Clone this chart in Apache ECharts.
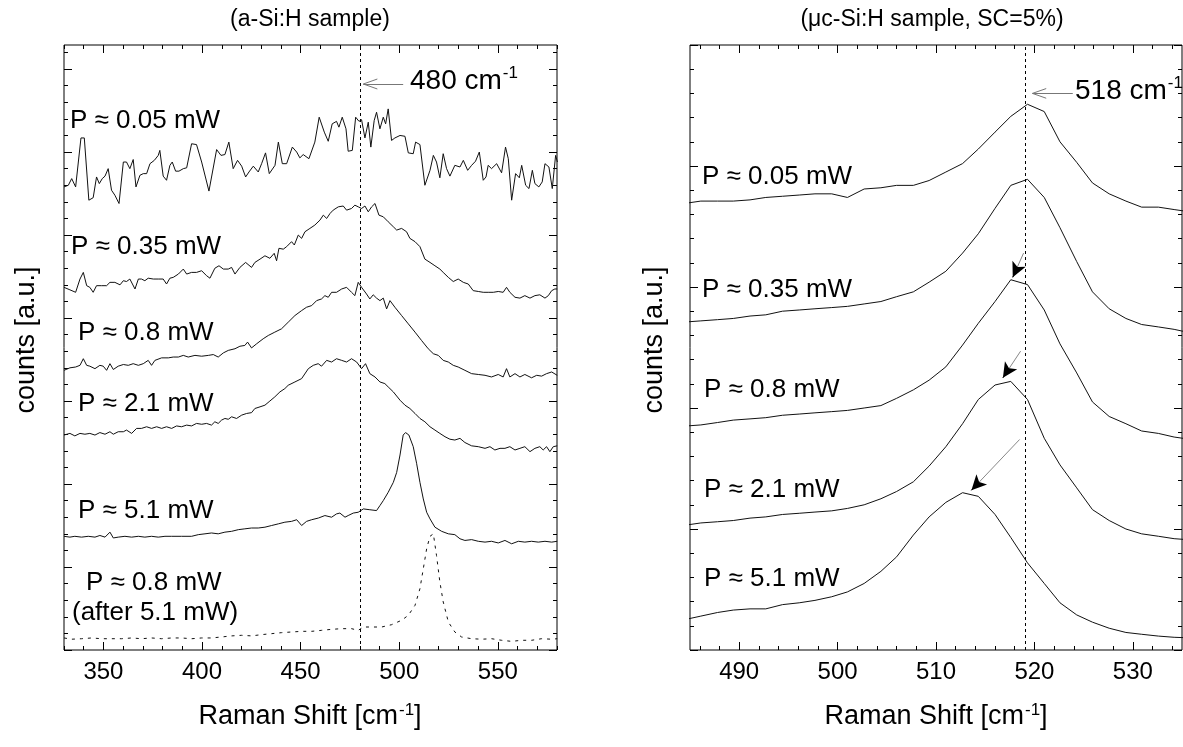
<!DOCTYPE html>
<html>
<head>
<meta charset="utf-8">
<script src="https://cdn.jsdelivr.net/npm/echarts@6/dist/echarts.min.js"></script>
<style>html,body{margin:0;padding:0;background:#fff}#chart{width:1183px;height:747px}</style>
</head>
<body>
<div id="chart"></div>
<script>
// ---- left panel: a-Si:H, spectra offset vertically ----
var aP005 = [[330.0,5.58],[332.2,5.60],[333.9,5.68],[335.9,5.58],[338.6,6.17],[340.3,6.17],[342.6,5.42],[344.8,5.45],[346.5,5.70],[347.9,5.62],[349.4,5.68],[350.8,5.71],[352.4,5.80],[354.1,5.54],[355.8,5.48],[357.9,5.38],[360.1,5.88],[361.7,5.88],[363.4,5.80],[365.1,5.91],[366.5,5.58],[368.5,5.72],[370.2,5.74],[371.9,5.74],[373.6,5.86],[375.8,5.90],[377.8,5.96],[378.6,6.02],[380.3,5.71],[382.0,5.66],[383.7,5.84],[384.9,5.88],[386.6,5.77],[388.3,5.77],[390.5,5.80],[392.2,5.81],[394.7,6.10],[397.2,6.09],[399.8,5.88],[403.5,5.53],[407.4,6.03],[409.6,5.96],[411.6,5.97],[413.6,6.12],[415.8,5.80],[418.0,5.90],[420.1,5.83],[422.1,5.70],[423.8,5.76],[426.0,5.83],[428.5,5.76],[430.2,5.86],[432.2,5.99],[434.1,5.74],[437.0,5.84],[438.7,6.12],[440.7,5.86],[442.9,5.86],[445.8,6.06],[448.0,6.00],[449.6,5.93],[451.3,5.97],[454.2,5.92],[457.2,6.12],[459.4,6.42],[462.0,6.24],[464.0,6.13],[466.0,6.34],[468.2,6.37],[469.4,6.30],[471.1,6.42],[473.0,6.28],[474.1,6.01],[476.2,6.02],[477.9,6.42],[479.6,6.37],[480.9,6.39],[482.6,6.17],[484.3,6.36],[485.6,6.06],[487.3,6.38],[488.5,6.48],[490.2,6.28],[491.9,6.42],[493.1,6.34],[494.4,6.52],[496.1,6.14],[497.8,6.17],[500.4,6.20],[502.9,6.19],[504.6,5.99],[507.1,5.98],[508.3,6.12],[510.5,6.09],[513.0,5.60],[515.6,5.78],[517.3,5.96],[518.9,5.88],[520.6,5.69],[522.3,5.98],[524.0,5.80],[525.7,5.71],[528.2,5.84],[530.8,5.82],[532.5,5.90],[534.7,5.78],[536.7,5.84],[538.7,5.89],[540.6,6.00],[542.6,5.66],[544.0,5.70],[545.1,5.84],[546.8,5.80],[549.4,5.86],[551.9,5.75],[553.9,6.06],[555.3,5.92],[557.0,5.42],[559.0,5.74],[560.9,5.69],[562.1,5.84],[564.1,5.60],[565.8,5.56],[567.5,5.78],[568.8,5.62],[570.8,5.58],[572.5,5.64],[573.9,5.86],[575.9,5.82],[577.6,5.56],[579.3,5.96],[580.2,5.88]];

var aP035 = [[330.0,4.37],[333.0,4.34],[335.9,4.31],[338.1,4.47],[339.8,4.55],[341.5,4.39],[343.1,4.37],[344.8,4.31],[346.5,4.39],[349.1,4.39],[351.6,4.39],[353.3,4.43],[355.8,4.43],[358.4,4.40],[360.1,4.45],[361.7,4.44],[363.4,4.47],[366.0,4.35],[367.7,4.47],[369.3,4.47],[371.0,4.45],[372.7,4.48],[375.3,4.47],[377.8,4.47],[380.3,4.47],[382.0,4.41],[383.7,4.48],[385.4,4.49],[388.0,4.53],[390.5,4.59],[392.2,4.53],[394.7,4.55],[397.2,4.55],[399.8,4.57],[402.3,4.51],[404.0,4.48],[406.5,4.60],[408.6,4.63],[410.8,4.59],[413.3,4.59],[415.0,4.61],[416.7,4.53],[419.2,4.61],[422.1,4.67],[425.1,4.61],[426.8,4.67],[429.4,4.71],[431.9,4.75],[434.4,4.72],[436.6,4.78],[437.8,4.69],[439.0,4.84],[441.2,4.83],[442.9,4.86],[445.4,4.92],[446.8,4.88],[448.8,5.00],[450.5,4.96],[452.2,5.04],[454.7,5.08],[457.2,5.12],[459.8,5.18],[461.5,5.24],[463.2,5.20],[464.9,5.26],[466.5,5.30],[469.1,5.34],[471.6,5.35],[473.3,5.30],[475.8,5.32],[477.5,5.36],[479.2,5.34],[480.9,5.32],[482.6,5.35],[484.3,5.28],[486.0,5.34],[487.7,5.38],[489.7,5.24],[491.9,5.22],[494.4,5.16],[497.0,5.10],[498.7,5.06],[501.2,5.08],[503.7,5.04],[505.4,4.96],[508.0,4.92],[510.5,4.86],[513.0,4.71],[515.6,4.67],[518.1,4.63],[520.6,4.59],[522.3,4.55],[524.9,4.49],[527.4,4.44],[529.9,4.47],[532.5,4.43],[535.0,4.41],[537.5,4.33],[540.1,4.32],[542.6,4.31],[545.1,4.31],[547.7,4.31],[550.2,4.32],[552.7,4.31],[554.4,4.37],[556.1,4.31],[558.7,4.25],[561.2,4.24],[563.7,4.27],[566.3,4.24],[568.8,4.27],[571.3,4.28],[573.9,4.24],[575.6,4.27],[577.3,4.33],[578.9,4.35],[580.1,4.35]];

var aP08 = [[330.0,3.37],[333.0,3.40],[335.9,3.41],[338.1,3.43],[339.8,3.51],[341.5,3.43],[343.1,3.42],[345.7,3.39],[348.2,3.43],[349.9,3.42],[351.6,3.37],[353.3,3.45],[355.0,3.38],[357.5,3.42],[360.1,3.44],[362.6,3.43],[365.1,3.45],[367.7,3.43],[370.2,3.45],[372.7,3.49],[374.4,3.43],[376.1,3.49],[379.5,3.52],[382.9,3.52],[385.4,3.53],[388.0,3.53],[390.5,3.55],[393.0,3.53],[396.4,3.55],[399.8,3.54],[403.2,3.55],[405.7,3.56],[408.2,3.53],[410.8,3.58],[413.3,3.61],[416.7,3.63],[419.2,3.66],[421.7,3.67],[423.1,3.71],[425.1,3.64],[427.7,3.69],[431.0,3.75],[433.6,3.79],[436.9,3.83],[440.3,3.87],[443.7,3.95],[447.1,4.03],[450.5,4.09],[453.0,4.13],[455.6,4.15],[458.1,4.21],[460.6,4.23],[462.3,4.27],[464.0,4.25],[465.7,4.31],[468.2,4.31],[470.8,4.35],[473.3,4.37],[475.8,4.31],[477.5,4.27],[479.2,4.43],[480.9,4.37],[483.4,4.29],[485.1,4.23],[486.8,4.28],[488.5,4.24],[490.2,4.21],[491.9,4.24],[493.6,4.11],[495.3,4.21],[497.8,4.13],[501.2,4.03],[504.6,3.93],[508.0,3.83],[511.3,3.73],[514.7,3.63],[517.3,3.57],[519.8,3.55],[522.3,3.49],[524.9,3.47],[527.4,3.43],[529.9,3.41],[533.3,3.37],[536.7,3.33],[540.1,3.32],[543.5,3.31],[546.8,3.29],[550.2,3.32],[552.7,3.29],[554.4,3.39],[556.1,3.29],[558.7,3.33],[561.2,3.29],[563.7,3.32],[567.1,3.28],[569.7,3.31],[572.2,3.30],[574.7,3.33],[577.3,3.35],[580.1,3.31]];

var aP21 = [[330.0,2.59],[333.0,2.61],[335.5,2.58],[338.1,2.61],[340.6,2.60],[343.1,2.61],[345.7,2.59],[348.2,2.62],[350.8,2.60],[353.3,2.63],[355.0,2.60],[357.5,2.63],[360.1,2.63],[361.7,2.65],[364.3,2.61],[366.8,2.67],[369.3,2.67],[371.9,2.69],[374.4,2.67],[377.0,2.69],[379.5,2.67],[382.0,2.69],[384.6,2.67],[387.1,2.70],[389.6,2.69],[392.2,2.71],[394.7,2.70],[397.2,2.73],[399.8,2.72],[402.3,2.73],[404.8,2.71],[406.5,2.75],[408.2,2.73],[409.9,2.77],[411.6,2.79],[413.3,2.78],[415.0,2.81],[417.5,2.79],[420.1,2.83],[422.6,2.85],[425.1,2.86],[426.8,2.91],[429.4,2.93],[431.9,2.95],[434.4,3.00],[436.9,3.05],[439.5,3.11],[442.0,3.15],[443.7,3.19],[447.1,3.23],[450.5,3.27],[453.9,3.39],[456.4,3.43],[458.9,3.45],[460.6,3.42],[463.2,3.49],[465.7,3.47],[468.2,3.51],[470.8,3.49],[473.3,3.47],[475.8,3.51],[478.4,3.47],[480.9,3.39],[482.9,3.45],[485.1,3.33],[487.7,3.29],[490.2,3.23],[492.7,3.21],[494.4,3.17],[497.0,3.11],[500.4,3.01],[502.9,2.95],[505.4,2.91],[508.0,2.85],[510.5,2.79],[513.0,2.75],[515.6,2.69],[518.1,2.65],[520.6,2.61],[523.2,2.57],[525.7,2.54],[528.2,2.53],[530.8,2.55],[533.3,2.50],[536.7,2.46],[540.1,2.45],[543.5,2.43],[546.0,2.45],[548.5,2.41],[551.1,2.43],[553.6,2.43],[556.1,2.45],[558.7,2.41],[561.2,2.43],[563.7,2.45],[566.3,2.39],[568.8,2.43],[571.3,2.45],[573.0,2.41],[574.7,2.45],[576.4,2.39],[578.1,2.45],[580.1,2.46]];

var aP51 = [[330.0,1.37],[333.0,1.36],[335.5,1.37],[338.9,1.36],[342.3,1.37],[345.7,1.36],[348.2,1.38],[350.8,1.36],[353.3,1.42],[355.0,1.35],[357.5,1.36],[360.9,1.37],[364.3,1.36],[367.7,1.37],[371.0,1.36],[374.4,1.37],[377.8,1.36],[381.2,1.37],[384.6,1.37],[389.6,1.37],[394.7,1.37],[398.1,1.39],[401.5,1.40],[404.8,1.41],[408.2,1.40],[411.6,1.42],[415.0,1.43],[418.4,1.45],[421.7,1.46],[425.1,1.47],[428.5,1.47],[431.9,1.48],[435.3,1.50],[438.7,1.52],[442.0,1.54],[445.4,1.55],[448.0,1.57],[450.5,1.50],[453.0,1.55],[455.6,1.57],[459.0,1.59],[462.3,1.62],[465.7,1.60],[468.2,1.64],[469.9,1.65],[472.5,1.60],[474.1,1.62],[476.7,1.65],[479.2,1.66],[481.8,1.70],[485.1,1.69],[488.5,1.68],[490.2,1.74],[491.9,1.80],[494.4,1.90],[497.0,2.02],[498.7,2.14],[500.4,2.35],[502.0,2.59],[503.2,2.62],[504.9,2.59],[507.1,2.45],[508.8,2.25],[510.5,2.02],[512.2,1.82],[513.9,1.66],[515.6,1.58],[518.1,1.48],[521.5,1.43],[524.9,1.40],[528.2,1.39],[530.8,1.34],[533.3,1.32],[536.7,1.33],[540.1,1.31],[543.5,1.30],[546.8,1.31],[550.2,1.29],[553.6,1.32],[557.0,1.28],[560.4,1.31],[563.7,1.30],[567.1,1.31],[570.5,1.30],[573.9,1.31],[577.3,1.30],[580.1,1.31]];

var aP08after = [[330.0,0.145],[333.9,0.13],[338.9,0.136],[344.0,0.145],[349.1,0.136],[354.1,0.136],[359.2,0.136],[364.3,0.145],[369.3,0.136],[374.4,0.145],[379.5,0.136],[384.6,0.145],[389.6,0.145],[394.7,0.136],[399.8,0.145],[404.8,0.145],[409.9,0.157],[415.0,0.17],[420.1,0.177],[425.1,0.17],[430.2,0.185],[435.3,0.197],[440.3,0.209],[445.4,0.217],[450.5,0.225],[455.6,0.225],[460.6,0.237],[465.7,0.249],[470.8,0.257],[475.8,0.257],[479.2,0.237],[481.8,0.277],[486.0,0.277],[491.1,0.277],[496.1,0.305],[501.2,0.358],[504.6,0.418],[508.0,0.538],[510.5,0.739],[512.2,0.98],[513.9,1.22],[515.6,1.37],[517.3,1.40],[518.9,1.14],[520.6,0.82],[522.3,0.58],[524.9,0.337],[528.2,0.217],[531.6,0.157],[536.7,0.136],[541.8,0.13],[546.8,0.136],[551.9,0.117],[557.0,0.104],[562.0,0.117],[567.1,0.117],[572.2,0.136],[577.3,0.13],[580.1,0.136]];

// ---- right panel: uc-Si:H, spectra offset vertically ----
var ucShift = [484.4,486.1,487.8,489.4,491.1,492.7,494.4,496.1,497.7,499.4,501.0,502.7,504.4,506.0,507.7,509.3,511.0,512.7,514.3,516.0,517.6,519.3,521.0,522.6,524.3,525.9,527.6,529.3,530.9,532.6,534.2,535.9];
var ucP005 = [3.69,3.71,3.71,3.71,3.72,3.74,3.75,3.76,3.77,3.77,3.74,3.81,3.82,3.84,3.84,3.88,3.95,4.02,4.14,4.28,4.41,4.51,4.45,4.20,4.03,3.86,3.77,3.71,3.66,3.66,3.64,3.62];
var ucP035 = [2.71,2.72,2.73,2.74,2.76,2.77,2.80,2.81,2.82,2.83,2.84,2.86,2.88,2.92,2.96,3.04,3.13,3.28,3.44,3.65,3.84,3.89,3.74,3.49,3.21,2.96,2.82,2.74,2.69,2.67,2.65,2.62];
var ucP08 = [1.85,1.86,1.88,1.90,1.91,1.92,1.94,1.95,1.96,1.97,1.98,2.00,2.02,2.08,2.15,2.23,2.34,2.52,2.70,2.88,3.06,3.02,2.81,2.53,2.29,2.05,1.93,1.87,1.81,1.79,1.76,1.74];
var ucP21 = [1.03,1.05,1.06,1.07,1.09,1.10,1.12,1.13,1.14,1.15,1.17,1.20,1.25,1.31,1.39,1.52,1.68,1.87,2.07,2.19,2.22,2.07,1.75,1.53,1.34,1.16,1.07,1.00,0.96,0.94,0.92,0.91];
var ucP51 = [0.25,0.28,0.31,0.33,0.34,0.34,0.375,0.39,0.41,0.44,0.48,0.55,0.65,0.77,0.95,1.10,1.22,1.30,1.27,1.12,0.93,0.72,0.55,0.39,0.29,0.23,0.18,0.145,0.13,0.115,0.105,0.10];

// tick labels
var leftTicks = [350, 400, 450, 500, 550];
var rightTicks = [490, 500, 510, 520, 530];

var leftLabels = ['P \u2248 0.05 mW', 'P \u2248 0.35 mW', 'P \u2248 0.8 mW', 'P \u2248 2.1 mW', 'P \u2248 5.1 mW', 'P \u2248 0.8 mW', '(after 5.1 mW)'];
var rightLabels = ['P \u2248 0.05 mW', 'P \u2248 0.35 mW', 'P \u2248 0.8 mW', 'P \u2248 2.1 mW', 'P \u2248 5.1 mW'];

var FONT = "'Liberation Sans', Arial, Helvetica, sans-serif";

function pairs(xs, ys) {
  var out = [];
  for (var i = 0; i < xs.length; i++) out.push([xs[i], ys[i]]);
  return out;
}

function range(a, b, step) {
  var out = [];
  for (var v = a; v <= b + 1e-9; v += step) out.push(Math.round(v * 1000) / 1000);
  return out;
}

// an axis that only draws inward ticks (and optionally labels)
function tickAxis(gi, pos, min, max, vals, len, labels) {
  return {
    type: 'value', gridIndex: gi, position: pos, min: min, max: max,
    axisLine: {show: false, onZero: false},
    splitLine: {show: false},
    axisTick: {show: true, inside: true, length: len, customValues: vals,
               lineStyle: {color: '#000', width: 1}},
    axisLabel: labels ? {show: true, customValues: labels, fontSize: 24, color: '#000',
                         fontFamily: FONT, margin: 10} : {show: false}
  };
}

// xi: index of the major-tick axes (1 = left panel, 5 = right panel)
function curve(data, xi, dashed, markLine) {
  var s = {
    type: 'line', data: data, xAxisIndex: xi, yAxisIndex: xi,
    symbol: 'none', showSymbol: false, clip: true, silent: true,
    lineStyle: {color: '#111', width: 1, type: dashed ? [3, 5] : 'solid'}
  };
  if (markLine) s.markLine = markLine;
  return s;
}

var LMAX = 7.29;

var xAxes = [
  tickAxis(0, 'bottom', 330, 580, range(330, 580, 10), 4),
  tickAxis(0, 'bottom', 330, 580, leftTicks, 8, leftTicks),
  tickAxis(0, 'top', 330, 580, range(330, 580, 10), 4),
  tickAxis(0, 'top', 330, 580, leftTicks, 8),
  tickAxis(1, 'bottom', 485, 535, range(486, 534, 2), 4),
  tickAxis(1, 'bottom', 485, 535, rightTicks, 8, rightTicks),
  tickAxis(1, 'top', 485, 535, range(486, 534, 2), 4),
  tickAxis(1, 'top', 485, 535, rightTicks, 8)
];
var yAxes = [
  tickAxis(0, 'left', 0, LMAX, range(0, 7.2, 0.2), 4),
  tickAxis(0, 'left', 0, LMAX, range(0, 7, 1), 8),
  tickAxis(0, 'right', 0, LMAX, range(0, 7.2, 0.2), 4),
  tickAxis(0, 'right', 0, LMAX, range(0, 7, 1), 8),
  tickAxis(1, 'left', 0, 5, range(0, 5, 0.2), 4),
  tickAxis(1, 'left', 0, 5, range(0, 5, 1), 8),
  tickAxis(1, 'right', 0, 5, range(0, 5, 0.2), 4),
  tickAxis(1, 'right', 0, 5, range(0, 5, 1), 8)
];

function seg(a, b, color, head) {
  return [
    {coord: a, symbol: 'none', lineStyle: {color: color, width: 1, type: 'solid'}},
    {coord: b, symbol: head ? 'arrow' : 'none', symbolSize: [11, 15]}
  ];
}

var leftMarks = {
  silent: true, symbol: ['none', 'none'], label: {show: false}, animation: false,
  data: [
    {xAxis: 480, lineStyle: {color: '#000', width: 1, type: [3, 3]}},
    seg([502.0, 6.82], [481.8, 6.82], '#777'),
    seg([481.8, 6.82], [488.9, 6.88], '#777'),
    seg([481.8, 6.82], [488.9, 6.76], '#777')
  ]
};
var rightMarks = {
  silent: true, symbol: ['none', 'none'], label: {show: false}, animation: false,
  data: [
    {xAxis: 519.1, lineStyle: {color: '#000', width: 1, type: [3, 3]}},
    seg([523.9, 4.60], [519.8, 4.60], '#777'),
    seg([519.8, 4.60], [521.2, 4.64], '#777'),
    seg([519.8, 4.60], [521.2, 4.56], '#777'),
    seg([518.9, 3.28], [517.8, 3.08], '#888'),
    seg([518.2, 3.15], [517.8, 3.08], '#000', true),
    seg([518.6, 2.47], [516.8, 2.25], '#888'),
    seg([517.2, 2.30], [516.8, 2.25], '#000', true),
    seg([518.5, 1.74], [513.6, 1.32], '#888'),
    seg([514.3, 1.38], [513.6, 1.32], '#000', true)
  ]
};

var series = [
  curve(aP005, 1, false, leftMarks),
  curve(aP035, 1),
  curve(aP08, 1),
  curve(aP21, 1),
  curve(aP51, 1),
  curve(aP08after, 1, true),
  curve(pairs(ucShift, ucP005), 5, false, rightMarks),
  curve(pairs(ucShift, ucP035), 5),
  curve(pairs(ucShift, ucP08), 5),
  curve(pairs(ucShift, ucP21), 5),
  curve(pairs(ucShift, ucP51), 5)
];

function label(text, x, y, size) {
  return {type: 'text', x: x, y: y, silent: true,
          style: {text: text, fontSize: size || 26, fontFamily: FONT, fill: '#000',
                  align: 'left', verticalAlign: 'middle'}};
}
function centered(text, x, y, size, rot) {
  return {type: 'text', x: x, y: y, rotation: rot || 0, silent: true,
          style: {text: text, fontSize: size, fontFamily: FONT, fill: '#000',
                  align: 'center', verticalAlign: 'middle'}};
}
function supText(main, sup, tail, x, y, size, align) {
  return {type: 'text', x: x, y: y, silent: true,
          style: {text: '{n|' + main + '}{s|' + sup + '}' + (tail ? '{n|' + tail + '}' : ''),
                  fontFamily: FONT, fill: '#000', align: align, verticalAlign: 'middle',
                  rich: {
                    n: {fontSize: size, fontFamily: FONT, fill: '#000', verticalAlign: 'bottom', lineHeight: size + 2},
                    s: {fontSize: Math.round(size * 0.62), fontFamily: FONT, fill: '#000', verticalAlign: 'top',
                        lineHeight: Math.round(size * 0.62), padding: [0, 0, Math.round(size * 0.78), 1]}
                  }}};
}

var leftPos = [[70, 121], [71, 247], [78, 333], [78, 404], [78, 511], [86, 583], [72, 613]];
var rightPos = [[702, 177], [702, 290], [704, 390], [704, 490], [704, 579]];

var graphics = [];
leftLabels.forEach(function (t, i) { graphics.push(label(t, leftPos[i][0], leftPos[i][1])); });
rightLabels.forEach(function (t, i) { graphics.push(label(t, rightPos[i][0], rightPos[i][1])); });
graphics.push(centered('(a-Si:H sample)', 310, 20, 23));
graphics.push(centered('(\u03bcc-Si:H sample, SC=5%)', 932, 20, 23));
graphics.push(centered('counts [a.u.]', 27, 340, 27, Math.PI / 2));
graphics.push(centered('counts [a.u.]', 655, 340, 27, Math.PI / 2));
graphics.push(supText('Raman Shift [cm', '-1', ']', 310, 716, 27, 'center'));
graphics.push(supText('Raman Shift [cm', '-1', ']', 936, 716, 27, 'center'));
graphics.push(supText('480 cm', '-1', '', 410, 80, 28, 'left'));
graphics.push(supText('518 cm', '-1', '', 1075, 90, 28, 'left'));

var chart = echarts.init(document.getElementById('chart'));
chart.setOption({
  animation: false,
  backgroundColor: '#fff',
  grid: [
    {left: 64, top: 45, width: 493, height: 605, show: true, borderColor: '#000', borderWidth: 1},
    {left: 690, top: 45, width: 492, height: 605, show: true, borderColor: '#000', borderWidth: 1}
  ],
  xAxis: xAxes,
  yAxis: yAxes,
  series: series,
  graphic: graphics
});
</script>
</body>
</html>
